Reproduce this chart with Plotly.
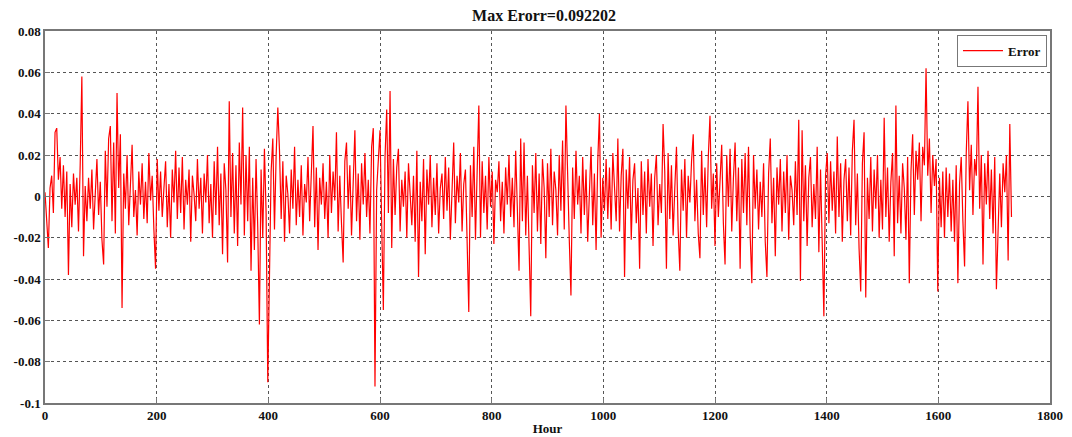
import plotly.graph_objects as go

# Error series (3-hour spacing, hours 0..1731)
error = [
    0.002, -0.012, -0.025, 0.004, 0.010, -0.008, 0.031, 0.033, 0.008, 0.019, -0.006, 0.015, -0.010, 0.012, -0.038, 0.006, -0.015, 0.011, -0.004, 0.009,
    -0.017, 0.015, 0.058, -0.029, 0.005, -0.012, 0.009, -0.006, 0.013, -0.016, 0.002, 0.018, -0.009, 0.007, -0.021, -0.033, 0.022, -0.005, 0.028, 0.034,
    -0.012, 0.026, -0.018, 0.050, 0.004, 0.030, -0.054, 0.011, -0.006, 0.020, -0.014, 0.008, 0.025, -0.010, 0.003, -0.019, 0.012, -0.004, 0.016, -0.011,
    0.007, -0.013, 0.021, -0.002, 0.010, -0.016, -0.035, 0.018, -0.007, 0.012, -0.010, 0.004, 0.017, -0.015, 0.006, -0.020, 0.013, -0.003, 0.022, -0.011,
    0.014, -0.008, 0.019, -0.016, 0.008, -0.004, 0.013, -0.022, 0.010, 0.001, -0.012, 0.018, -0.006, 0.009, -0.018, 0.011, -0.003, 0.020, -0.013, 0.006,
    -0.020, 0.017, -0.009, 0.024, -0.014, 0.011, -0.028, 0.016, 0.003, -0.032, 0.046, -0.010, 0.021, -0.018, 0.015, -0.024, 0.026, -0.004, 0.043, -0.019,
    0.020, -0.012, 0.024, -0.036, 0.009, -0.026, 0.018, -0.015, -0.062, 0.013, -0.020, 0.023, -0.008, -0.090, -0.043, 0.012, 0.028, -0.016, 0.020, 0.043,
    0.022, -0.011, 0.017, -0.022, 0.010, 0.001, -0.018, 0.013, -0.006, 0.024, -0.014, 0.008, -0.010, 0.015, -0.019, 0.006, -0.003, 0.019, -0.012, 0.011,
    0.034, -0.015, 0.014, -0.026, 0.009, -0.004, 0.016, -0.011, 0.007, -0.020, 0.020, -0.008, 0.012, -0.002, 0.031, -0.017, 0.010, -0.013, -0.032, 0.017,
    0.026, -0.006, 0.015, -0.019, 0.005, 0.032, -0.012, 0.011, -0.021, 0.016, -0.004, 0.021, -0.010, 0.008, -0.018, 0.024, 0.033, -0.092, 0.003, 0.015,
    0.032, -0.013, -0.055, 0.019, 0.042, -0.008, 0.051, -0.025, 0.018, -0.009, 0.014, 0.023, -0.017, 0.008, -0.005, 0.012, -0.020, 0.016, 0.002, -0.014,
    0.010, -0.022, 0.022, -0.039, 0.007, -0.012, 0.018, -0.028, 0.013, -0.004, 0.020, -0.015, 0.009, -0.009, 0.016, -0.018, 0.004, 0.011, -0.011, 0.019,
    -0.007, 0.014, -0.021, 0.008, 0.026, -0.013, 0.010, -0.003, 0.021, -0.017, 0.006, 0.013, -0.019, -0.056, 0.015, -0.010, 0.024, -0.021, 0.012, 0.044,
    -0.020, 0.017, -0.008, 0.010, -0.016, 0.019, -0.005, 0.012, -0.023, 0.008, 0.002, 0.017, -0.012, 0.007, -0.018, 0.014, -0.004, 0.020, -0.010, 0.009,
    -0.015, 0.022, -0.006, -0.036, 0.028, -0.012, 0.026, -0.019, 0.010, -0.030, -0.058, 0.015, -0.008, 0.021, -0.017, 0.011, -0.023, 0.018, 0.004, -0.030,
    0.016, -0.010, 0.023, -0.014, 0.012, 0.003, -0.019, 0.020, -0.007, 0.027, -0.016, 0.044, 0.008, -0.021, -0.048, 0.014, -0.011, 0.022, -0.004, 0.010,
    -0.018, 0.019, -0.009, 0.013, -0.022, 0.006, 0.024, -0.014, 0.011, -0.026, 0.017, 0.040, -0.020, 0.009, -0.007, 0.018, -0.011, 0.014, -0.016, 0.021,
    0.006, -0.012, 0.028, -0.017, 0.010, 0.023, -0.039, 0.013, -0.006, 0.019, -0.021, 0.008, 0.016, -0.013, 0.004, -0.035, 0.017, -0.009, 0.012, -0.018,
    0.018, -0.005, 0.011, -0.024, 0.009, 0.020, -0.014, 0.006, -0.008, 0.035, 0.012, -0.035, 0.021, -0.011, 0.015, -0.019, 0.004, 0.024, -0.016, -0.036,
    0.013, -0.007, 0.018, -0.020, 0.010, -0.003, 0.017, 0.030, -0.012, 0.008, -0.018, -0.030, 0.022, -0.009, 0.014, -0.015, 0.019, 0.039, -0.006, 0.011,
    -0.024, 0.016, -0.010, 0.012, 0.025, -0.013, -0.033, 0.020, -0.005, 0.023, -0.017, 0.009, 0.026, -0.012, 0.014, -0.035, 0.018, -0.008, 0.021, -0.014,
    0.024, -0.019, -0.042, 0.020, -0.006, 0.013, -0.016, 0.007, -0.010, 0.016, -0.022, -0.039, 0.011, 0.028, -0.013, 0.009, -0.029, 0.014, -0.004, 0.018,
    -0.017, 0.012, -0.008, 0.020, -0.021, 0.010, 0.003, -0.014, 0.017, -0.009, 0.037, -0.041, 0.032, -0.012, 0.015, -0.024, 0.009, 0.019, -0.015, 0.006,
    -0.011, 0.024, -0.027, 0.013, -0.020, -0.058, 0.010, 0.021, -0.013, 0.017, -0.007, 0.012, -0.018, 0.029, -0.010, 0.016, -0.022, 0.008, 0.018, -0.012,
    0.014, -0.019, 0.022, 0.037, -0.014, 0.011, -0.025, -0.046, 0.016, 0.031, -0.049, 0.009, -0.011, 0.019, -0.017, 0.013, -0.006, 0.020, -0.020, 0.008,
    -0.016, 0.038, -0.010, 0.014, -0.022, 0.007, 0.021, -0.029, 0.044, -0.013, 0.010, -0.018, 0.016, 0.004, -0.021, 0.019, -0.042, 0.012, 0.030, -0.009,
    0.022, 0.008, 0.026, -0.012, 0.024, 0.015, 0.062, 0.010, 0.028, -0.008, 0.020, 0.005, 0.018, -0.046, 0.009, -0.015, 0.012, -0.020, 0.014, -0.010,
    0.011, -0.017, 0.008, -0.022, 0.015, -0.042, 0.006, 0.019, -0.012, -0.034, 0.021, 0.046, 0.003, 0.025, -0.009, 0.018, 0.010, 0.053, -0.006, 0.020,
    -0.033, 0.016, -0.004, 0.022, -0.011, 0.013, -0.018, 0.019, -0.045, -0.022, 0.011, -0.015, 0.016, 0.002, 0.020, -0.031, 0.035, -0.010,
]
hours = [3 * i for i in range(len(error))]

x_ticks = [0, 200, 400, 600, 800, 1000, 1200, 1400, 1600, 1800]
y_ticks = [0.08, 0.06, 0.04, 0.02, 0, -0.02, -0.04, -0.06, -0.08, -0.1]
y_tick_labels = ["0.08", "0.06", "0.04", "0.02", "0", "-0.02", "-0.04", "-0.06", "-0.08", "-0.1"]
title_text = "Max Erorr=0.092202"

font_family = "Liberation Serif, Times New Roman, serif"

fig = go.Figure()
fig.add_trace(go.Scatter(
    x=hours, y=error, mode="lines", name="<b>Error</b>",
    line=dict(color="rgb(255,0,0)", width=1.2),
))

axis_common = dict(
    showline=True, linecolor="#777777", linewidth=1.5, mirror=True,
    showgrid=True, gridcolor="#555555", griddash="dot", gridwidth=1,
    ticks="inside", ticklen=5, tickcolor="#777777", zeroline=False,
    automargin=False,
    tickfont=dict(family=font_family, size=13, color="#111111"),
)

# the page body adds an 8px offset, so margins are reduced accordingly
fig.update_layout(
    width=1072, height=437,
    margin=dict(l=37, r=30, t=23, b=42),
    paper_bgcolor="white", plot_bgcolor="white",
    title=dict(text="<b>" + title_text + "</b>", x=0.5, xanchor="center",
               y=0.984, yanchor="middle",
               font=dict(family=font_family, size=16, color="#111111")),
    xaxis=dict(range=[0, 1800], tickvals=x_ticks,
               ticktext=["<b>%d</b>" % v for v in x_ticks],
               title=dict(text="<b>Hour</b>", standoff=2,
                          font=dict(family=font_family, size=13, color="#111111")),
               **axis_common),
    yaxis=dict(range=[-0.1, 0.08], tickvals=y_ticks,
               ticktext=["<b>" + t + "</b>" for t in y_tick_labels],
               **axis_common),
    showlegend=True,
    legend=dict(x=0.997, y=0.99, xanchor="right", yanchor="top",
                bgcolor="white", bordercolor="#777777", borderwidth=1,
                font=dict(family=font_family, size=13, color="#111111"),
                itemwidth=40),
)

fig.write_html("out.html")
